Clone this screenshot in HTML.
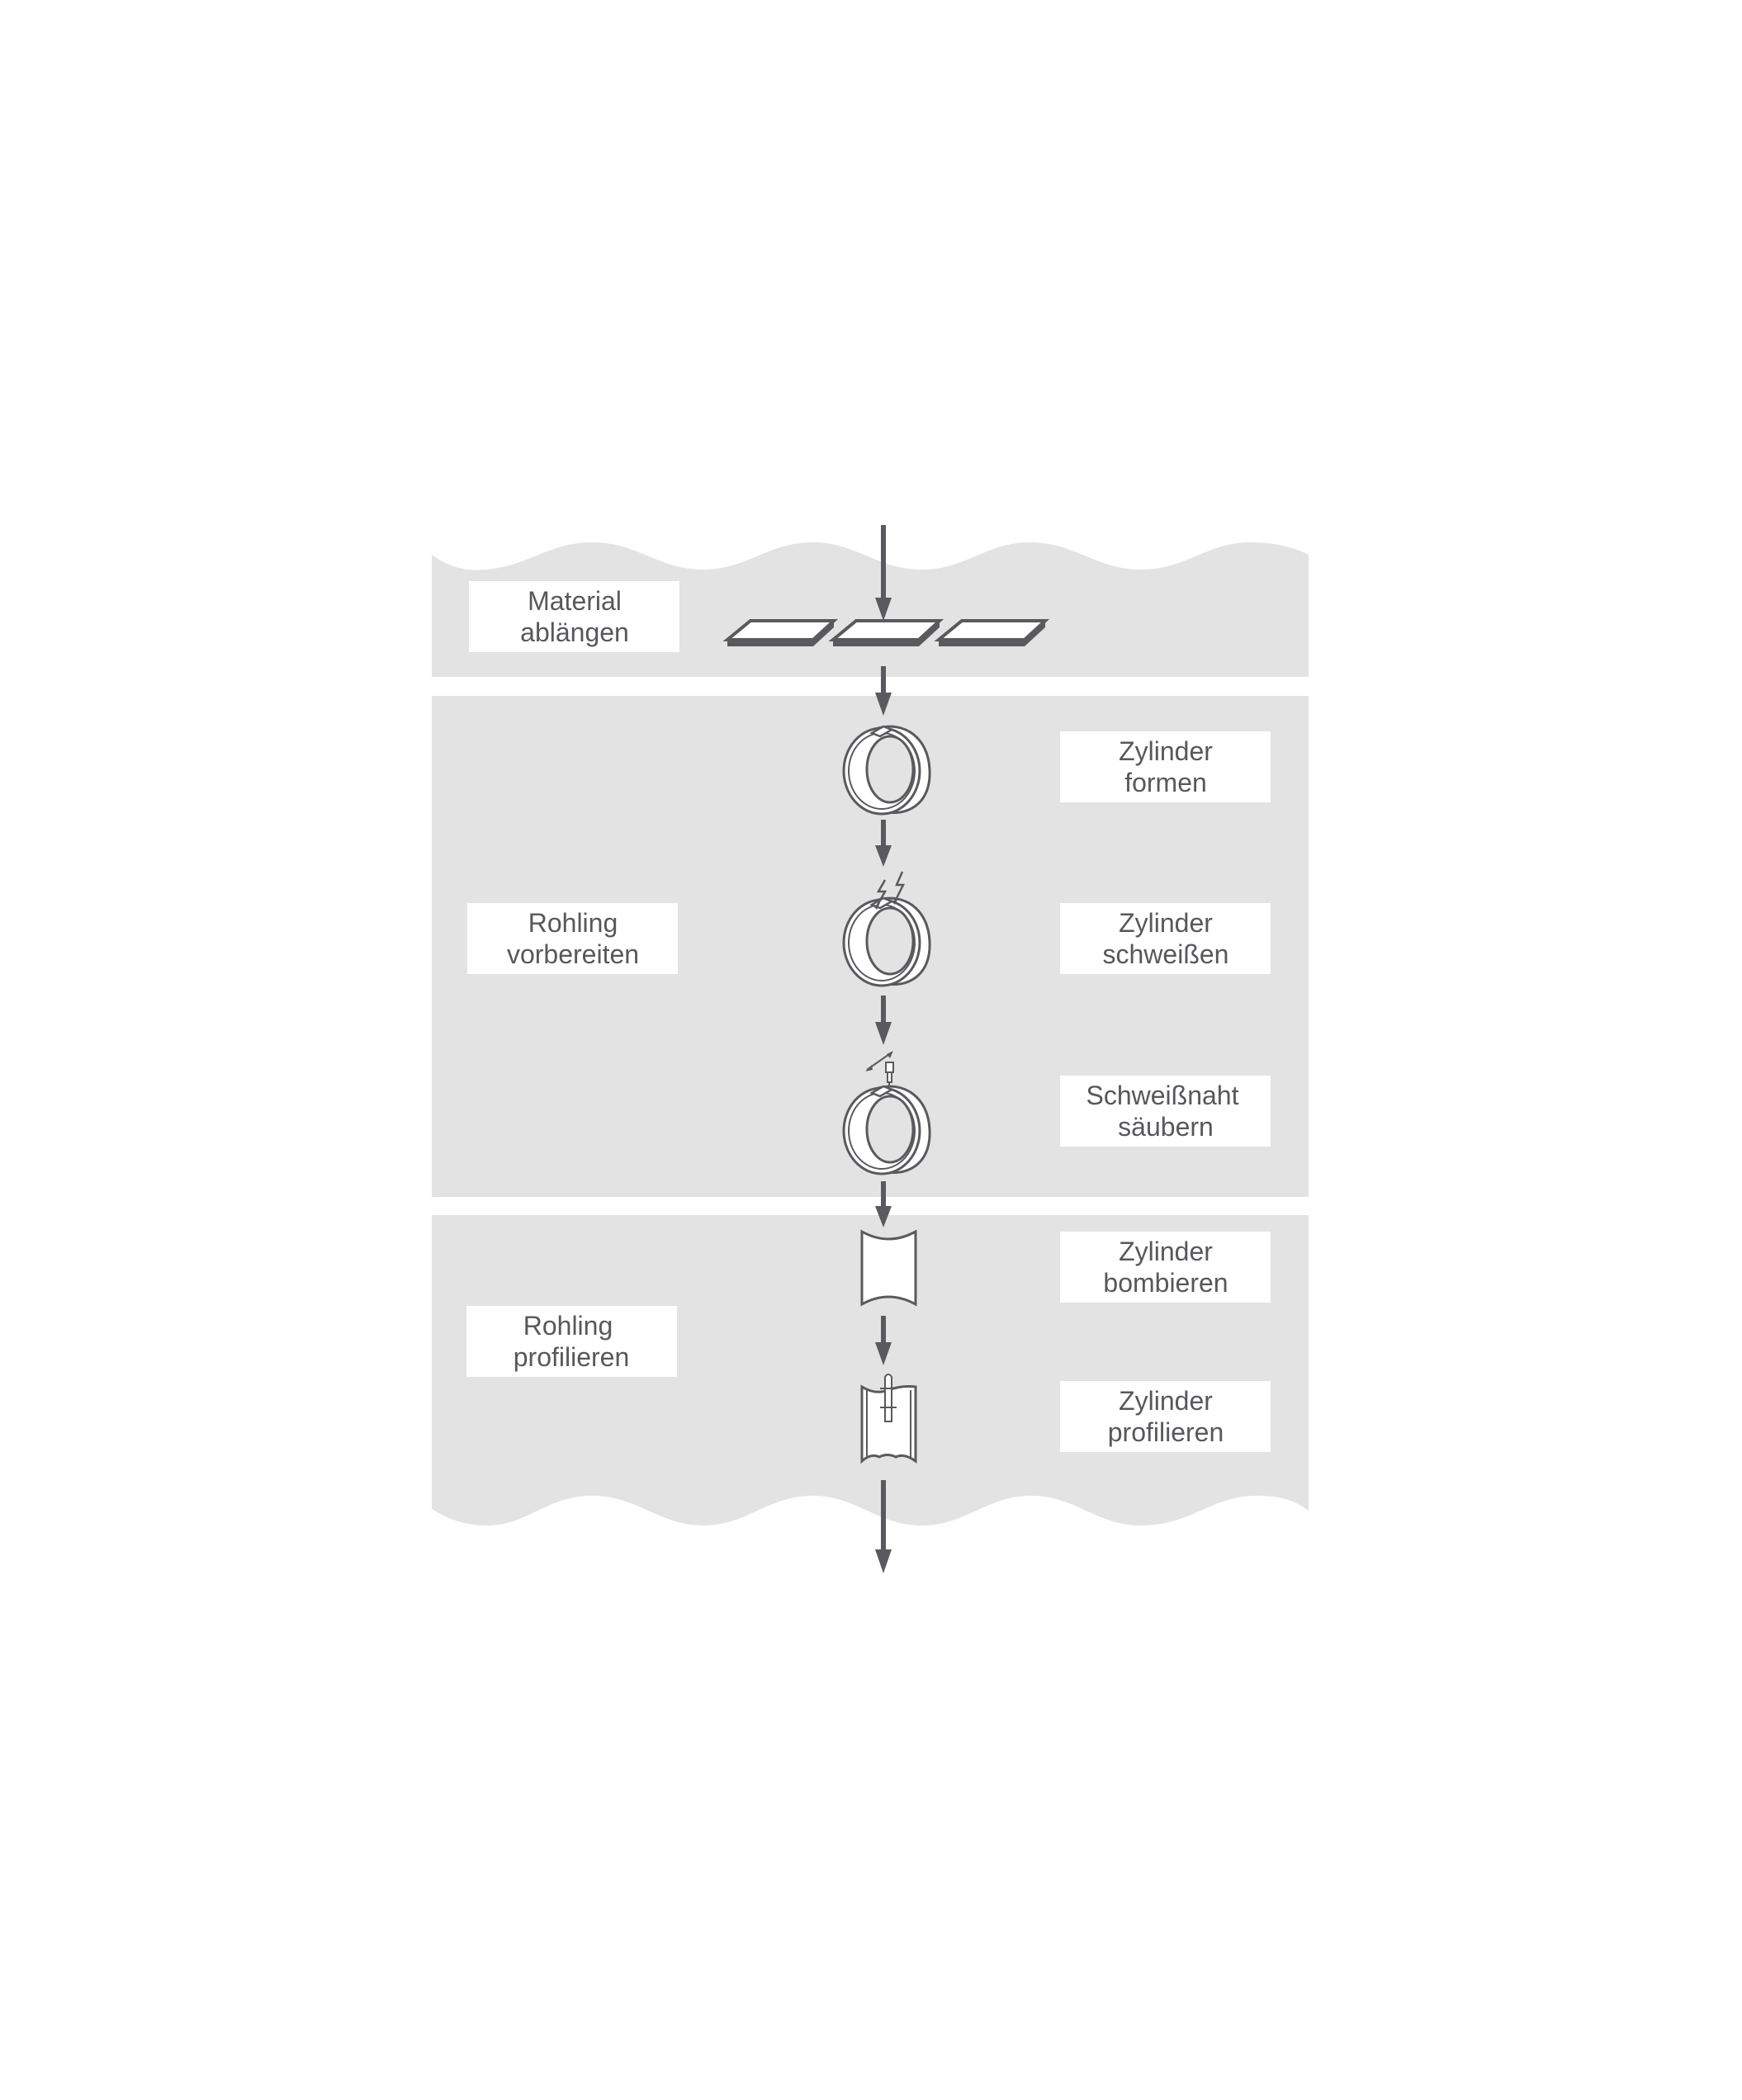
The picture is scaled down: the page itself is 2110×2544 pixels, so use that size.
<!DOCTYPE html>
<html><head><meta charset="utf-8"><style>
html,body{margin:0;padding:0;background:#fff;}
svg{display:block;}
text{font-family:"Liberation Sans","DejaVu Sans",sans-serif;font-size:32px;fill:#58585c;text-anchor:middle;}
</style></head><body>
<svg width="2110" height="2544" viewBox="0 0 2110 2544" xmlns="http://www.w3.org/2000/svg">
<defs>
<g id="ring">
  <path d="M-10,-50 C20,-58 50,-40 52,0 C54,38 30,56 0,52 Z" fill="#fff" stroke="#5a5a5e" stroke-width="3"/>
  <ellipse cx="-6" cy="2" rx="46" ry="52" fill="#fff" stroke="#5a5a5e" stroke-width="3"/>
  <ellipse cx="-6" cy="2" rx="40" ry="46" fill="none" stroke="#5a5a5e" stroke-width="2"/>
  <ellipse cx="4" cy="0" rx="28" ry="40" fill="#e3e3e3" stroke="#5a5a5e" stroke-width="3"/>
  <path d="M-18,-44 L-4,-52 L6,-48 L-8,-40 Z" fill="#fff" stroke="#5a5a5e" stroke-width="2.5"/>
</g>
<g id="plate">
  <polygon points="0,23 104,23 104,31 0,31" fill="#5a5a5e"/>
  <polygon points="104,23 129,0 129,8 104,31" fill="#5a5a5e"/>
  <polygon points="28,0 129,0 104,23 0,23" fill="#fff" stroke="#5a5a5e" stroke-width="4"/>
</g>
</defs>

<path d="M523,672 C545,688 565,692 588,690 C640,686 665,657 717,657 C773,657 798,690 852,690 C905,690 930,657 984,657 C1038,657 1063,690 1117,690 C1170,690 1195,657 1247,657 C1303,657 1328,690 1382,690 C1437,690 1462,657 1514,657 C1543,657 1565,662 1585,672 L1585,820 L523,820 Z" fill="#e3e3e3"/>
<rect x="523" y="843" width="1062" height="607" fill="#e3e3e3"/>
<path d="M523,1472 L1585,1472 L1585,1830 C1565,1815 1545,1812 1521,1812 C1468,1812 1443,1848 1382,1848 C1328,1848 1303,1812 1249,1812 C1195,1812 1170,1848 1117,1848 C1063,1848 1038,1812 984,1812 C930,1812 905,1848 852,1848 C798,1848 773,1812 717,1812 C663,1812 638,1848 591,1848 C565,1848 545,1842 523,1828 Z" fill="#e3e3e3"/>

<g fill="#fff">
<rect x="568" y="704" width="255" height="86"/>
<rect x="1284" y="886" width="255" height="86"/>
<rect x="566" y="1094" width="255" height="86"/>
<rect x="1284" y="1094" width="255" height="86"/>
<rect x="1284" y="1303" width="255" height="86"/>
<rect x="1284" y="1492" width="255" height="86"/>
<rect x="565" y="1582" width="255" height="86"/>
<rect x="1284" y="1673" width="255" height="86"/>
</g>
<text x="696" y="739">Material</text><text x="696" y="777">ablängen</text>
<text x="1412" y="921">Zylinder</text><text x="1412" y="959">formen</text>
<text x="694" y="1129">Rohling</text><text x="694" y="1167">vorbereiten</text>
<text x="1412" y="1129">Zylinder</text><text x="1412" y="1167">schweißen</text>
<text x="1408" y="1338">Schweißnaht</text><text x="1412" y="1376">säubern</text>
<text x="1412" y="1527">Zylinder</text><text x="1412" y="1565">bombieren</text>
<text x="688" y="1617">Rohling</text><text x="692" y="1655">profilieren</text>
<text x="1412" y="1708">Zylinder</text><text x="1412" y="1746">profilieren</text>

<g fill="#5a5a5e">
<rect x="1067" y="636" width="6" height="92"/><polygon points="1060,724 1080,724 1070,752"/>
<rect x="1067" y="807" width="6" height="36"/><polygon points="1060,839 1080,839 1070,867"/>
<rect x="1067" y="993" width="6" height="35"/><polygon points="1060,1024 1080,1024 1070,1050"/>
<rect x="1067" y="1206" width="6" height="36"/><polygon points="1060,1238 1080,1238 1070,1266"/>
<rect x="1067" y="1431" width="6" height="34"/><polygon points="1060,1461 1080,1461 1070,1487"/>
<rect x="1067" y="1594" width="6" height="36"/><polygon points="1060,1626 1080,1626 1070,1654"/>
<rect x="1067" y="1793" width="6" height="88"/><polygon points="1060,1877 1080,1877 1070,1906"/>
</g>

<use href="#plate" x="881" y="752"/>
<use href="#plate" x="1009" y="752"/>
<use href="#plate" x="1137" y="752"/>

<use href="#ring" x="1074" y="932"/>
<use href="#ring" x="1074" y="1140"/>
<use href="#ring" x="1074" y="1368"/>

<g fill="none" stroke="#5a5a5e" stroke-width="2.5">
<polyline points="1072,1066 1064,1080 1072,1080 1062,1098"/>
<polyline points="1093,1056 1086,1072 1094,1072 1084,1092"/>
</g>
<polygon points="1058,1098 1066,1094 1062,1102" fill="#5a5a5e"/>
<polygon points="1080,1092 1088,1088 1084,1096" fill="#5a5a5e"/>

<g stroke="#5a5a5e" stroke-width="2" fill="#fff">
<line x1="1050" y1="1296" x2="1080" y2="1275"/>
<rect x="1073" y="1287" width="9" height="12"/>
<rect x="1075" y="1299" width="5" height="12"/>
<line x1="1077" y1="1311" x2="1077" y2="1318"/>
</g>
<polygon points="1048,1298 1056,1290 1057,1296" fill="#5a5a5e"/>
<polygon points="1082,1273 1074,1277 1078,1282" fill="#5a5a5e"/>

<path d="M1044,1492 Q1076,1510 1109,1492 L1109,1580 Q1076,1562 1044,1580 Z" fill="#fff" stroke="#5a5a5e" stroke-width="3"/>

<path d="M1044,1680 Q1060,1690 1076,1684 Q1092,1678 1109,1680 L1109,1770 Q1095,1760 1085,1765 Q1075,1760 1065,1765 Q1055,1760 1044,1770 Z" fill="#fff" stroke="#5a5a5e" stroke-width="3"/>
<line x1="1050" y1="1684" x2="1050" y2="1766" stroke="#5a5a5e" stroke-width="2"/>
<line x1="1103" y1="1684" x2="1103" y2="1766" stroke="#5a5a5e" stroke-width="2"/>
<g stroke="#5a5a5e" stroke-width="2" fill="#fff">
<path d="M1072,1668 Q1076,1662 1080,1668 L1080,1722 L1072,1722 Z"/>
<line x1="1066" y1="1682" x2="1086" y2="1682"/>
<line x1="1066" y1="1705" x2="1086" y2="1705"/>
</g>
</svg>
</body></html>
